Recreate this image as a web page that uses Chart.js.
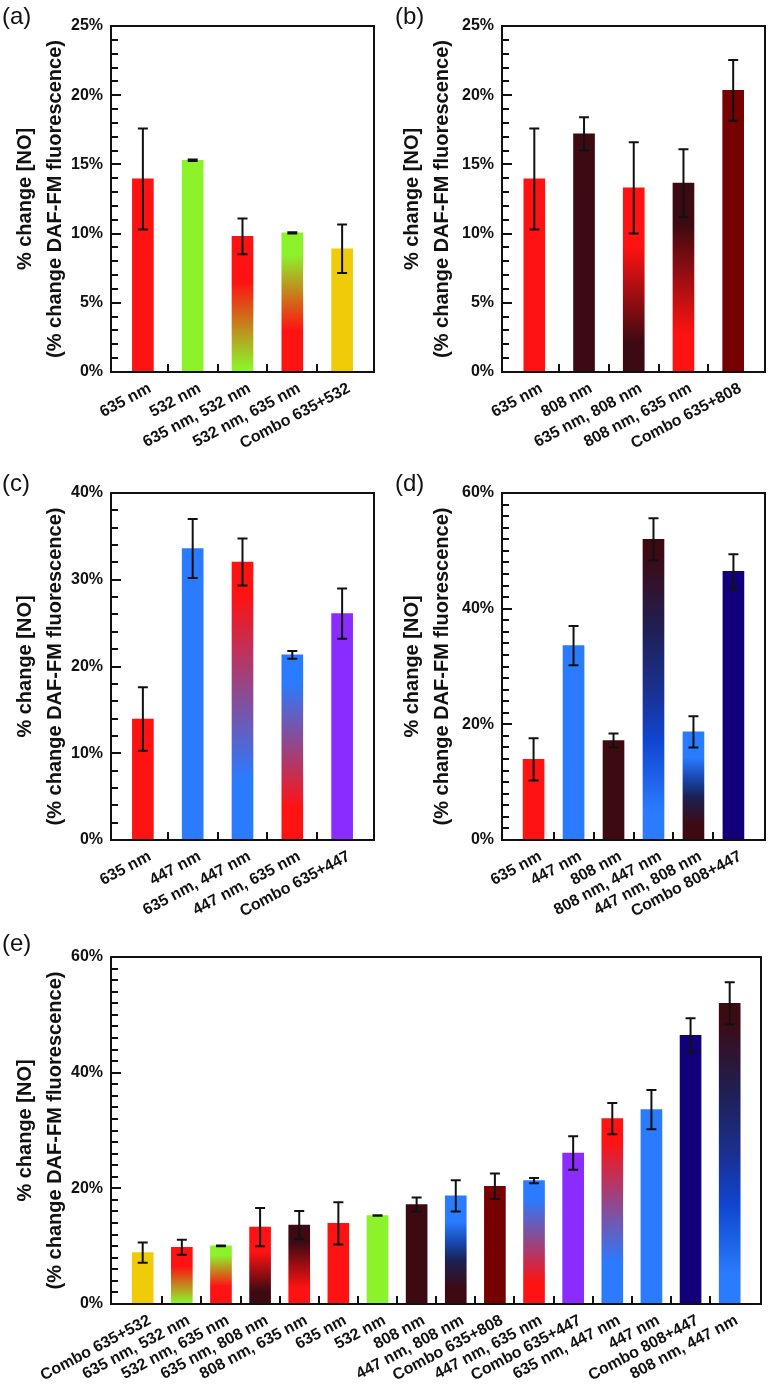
<!DOCTYPE html>
<html>
<head>
<meta charset="utf-8">
<script src="https://cdn.jsdelivr.net/npm/chart.js@4.4.1/dist/chart.umd.min.js"></script>
<style>
  html, body { margin:0; padding:0; background:#fff; }
  body { width:770px; height:1386px; position:relative; overflow:hidden; }
  canvas { position:absolute; }
  .plabel { position:absolute; font:24px "Liberation Sans", Arial, sans-serif; line-height:24px; color:#111; }
</style>
</head>
<body>
<canvas id="ca" width="385" height="470" style="left:0;top:0"></canvas>
<canvas id="cb" width="385" height="470" style="left:385px;top:0"></canvas>
<canvas id="cc" width="385" height="480" style="left:0;top:440px"></canvas>
<canvas id="cd" width="385" height="480" style="left:385px;top:440px"></canvas>
<canvas id="ce" width="770" height="476" style="left:0;top:910px"></canvas>
<div class="plabel" style="left:2px;top:4px">(a)</div>
<div class="plabel" style="left:395px;top:4px">(b)</div>
<div class="plabel" style="left:2px;top:471px">(c)</div>
<div class="plabel" style="left:395px;top:471px">(d)</div>
<div class="plabel" style="left:2px;top:931px">(e)</div>
<script>
// ---------------- DATA ----------------
// Panel (a)
const labelsA = ['635 nm', '532 nm', '635 nm, 532 nm', '532 nm, 635 nm', 'Combo 635+532'];
const valuesA = [13.95, 15.3, 9.8, 10.05, 8.9];
const errorsA = [3.65, 0.05, 1.3, 0.05, 1.75];
// Panel (b)
const labelsB = ['635 nm', '808 nm', '635 nm, 808 nm', '808 nm, 635 nm', 'Combo 635+808'];
const valuesB = [13.95, 17.2, 13.3, 13.65, 20.35];
const errorsB = [3.65, 1.2, 3.3, 2.45, 2.2];
// Panel (c)
const labelsC = ['635 nm', '447 nm', '635 nm, 447 nm', '447 nm, 635 nm', 'Combo 635+447'];
const valuesC = [13.95, 33.6, 32.05, 21.35, 26.1];
const errorsC = [3.65, 3.4, 2.7, 0.45, 2.9];
// Panel (d)
const labelsD = ['635 nm', '447 nm', '808 nm', '808 nm, 447 nm', '447 nm, 808 nm', 'Combo 808+447'];
const valuesD = [13.95, 33.6, 17.2, 52.0, 18.7, 46.45];
const errorsD = [3.65, 3.4, 1.2, 3.65, 2.7, 2.95];
// Panel (e)
const labelsE = ['Combo 635+532', '635 nm, 532 nm', '532 nm, 635 nm', '635 nm, 808 nm', '808 nm, 635 nm',
  '635 nm', '532 nm', '808 nm', '447 nm, 808 nm', 'Combo 635+808', '447 nm, 635 nm', 'Combo 635+447',
  '635 nm, 447 nm', '447 nm', 'Combo 808+447', '808 nm, 447 nm'];
const valuesE = [8.9, 9.8, 10.05, 13.3, 13.65, 13.95, 15.3, 17.2, 18.7, 20.35, 21.35, 26.1, 32.05, 33.6, 46.45, 52.0];
const errorsE = [1.75, 1.3, 0.05, 3.3, 2.45, 3.65, 0.05, 1.2, 2.7, 2.2, 0.45, 2.9, 2.7, 3.4, 2.95, 3.65];
// Y tick labels (percent)
const yTicksAB = [0, 5, 10, 15, 20, 25];
const yTicksC = [0, 10, 20, 30, 40];
const yTicksDE = [0, 20, 40, 60];
const yTitle = ['% change [NO]', '(% change DAF-FM fluorescence)'];

// ---------------- STYLE ----------------
const FONT = '"Liberation Sans", Arial, Helvetica, sans-serif';
const INK = '#111111';
const RED = '#FF1212', GREEN = '#8CF22A', GOLD = '#F0CC08', DARK = '#3D0A12',
      BLUE = '#2A7BFF', PURPLE = '#8A2BFF', NAVY = '#12007A', MAROON = '#770000';
// gradient stops: position from bar bottom (0) to bar top (1)
const barStyles = {
  '635 nm': RED,
  '532 nm': GREEN,
  '808 nm': DARK,
  '447 nm': BLUE,
  'Combo 635+532': GOLD,
  'Combo 635+808': MAROON,
  'Combo 635+447': PURPLE,
  'Combo 808+447': NAVY,
  '635 nm, 532 nm': [[0.03, GREEN], [0.66, RED]],
  '532 nm, 635 nm': [[0.3, RED], [0.84, GREEN]],
  '635 nm, 808 nm': [[0.16, DARK], [0.68, RED]],
  '808 nm, 635 nm': [[0.2, RED], [0.78, DARK]],
  '635 nm, 447 nm': [[0.22, BLUE], [0.88, RED]],
  '447 nm, 635 nm': [[0.17, RED], [0.85, BLUE]],
  '808 nm, 447 nm': [[0.1, BLUE], [0.33, '#1045D0'], [0.5, '#1A3090'], [0.7, '#1F1F55'], [0.95, DARK]],
  '447 nm, 808 nm': [[0.14, DARK], [0.4, '#1C2055'], [0.57, '#1848B0'], [0.76, BLUE]]
};

function fillFor(c, labels, values) {
  if (c.type !== 'data') return RED;
  const st = barStyles[labels[c.dataIndex]];
  if (typeof st === 'string') return st;
  const chart = c.chart;
  if (!chart.chartArea || !chart.scales.y) return st[st.length - 1][1];
  const y = chart.scales.y;
  const y0 = y.getPixelForValue(0), y1 = y.getPixelForValue(values[c.dataIndex]);
  const g = chart.ctx.createLinearGradient(0, y0, 0, y1);
  st.forEach(([p, col]) => g.addColorStop(p, col));
  return g;
}

function makeFrame(errors, minorStep, majorTicks, n) {
  return {
    id: 'frame',
    afterDatasetsDraw(chart) {
      const { ctx, chartArea: a, scales: { x, y } } = chart;
      const pts = chart.data.datasets[0].data;
      ctx.save();
      ctx.strokeStyle = INK;
      ctx.lineWidth = 2;
      ctx.lineCap = 'butt';
      // error bars
      pts.forEach((p, i) => {
        const e = errors[i];
        const px = x.getPixelForValue(p.x);
        const yt = y.getPixelForValue(p.y + e), yb = y.getPixelForValue(p.y - e);
        ctx.beginPath();
        ctx.moveTo(px, yt); ctx.lineTo(px, yb);
        ctx.moveTo(px - 5, yt); ctx.lineTo(px + 5, yt);
        ctx.moveTo(px - 5, yb); ctx.lineTo(px + 5, yb);
        ctx.stroke();
      });
      // inner ticks on y axis
      ctx.beginPath();
      const steps = Math.round((y.max - y.min) / minorStep);
      for (let k = 1; k < steps; k++) {
        const v = y.min + k * minorStep;
        const py = Math.round(y.getPixelForValue(v));
        const major = majorTicks.some(t => Math.abs(t - v) < 1e-6);
        ctx.moveTo(a.left, py); ctx.lineTo(a.left + (major ? 10 : 7), py);
      }
      // inner ticks on x axis between categories
      for (let i = 0; i < n - 1; i++) {
        const px = Math.round(x.getPixelForValue(i + 0.5));
        ctx.moveTo(px, a.bottom); ctx.lineTo(px, a.bottom - 8);
      }
      ctx.stroke();
      // frame
      ctx.strokeRect(a.left, a.top, a.right - a.left, a.bottom - a.top);
      ctx.restore();
    }
  };
}

function makePanel(id, labels, values, errors, yTicks, minorStep, geo) {
  const canvas = document.getElementById(id);
  const W = canvas.width, H = canvas.height;
  const xAxisH = H - geo.bottom;
  new Chart(canvas, {
    type: 'bar',
    data: {
      datasets: [{
        data: values.map((v, i) => ({ x: i, y: v })),
        backgroundColor: c => fillFor(c, labels, values),
        borderWidth: 0,
        barThickness: 21
      }]
    },
    options: {
      responsive: false,
      animation: false,
      devicePixelRatio: 1,
      layout: { padding: { left: 0, top: geo.top, right: W - geo.right, bottom: 0 } },
      plugins: { legend: { display: false }, tooltip: { enabled: false }, title: { display: false } },
      scales: {
        x: {
          type: 'linear',
          offset: false,
          min: geo.xmin,
          max: geo.xmax,
          afterBuildTicks: s => { s.ticks = labels.map((_, i) => ({ value: i })); },
          afterFit: s => { s.height = xAxisH; },
          grid: { display: false, drawTicks: false },
          border: { display: false },
          ticks: {
            autoSkip: false, minRotation: 28, maxRotation: 28, padding: 7, labelOffset: 7,
            color: INK, font: { family: FONT, size: 16, weight: 'bold' },
            callback: v => labels[v]
          }
        },
        y: {
          type: 'linear',
          min: yTicks[0],
          max: yTicks[yTicks.length - 1],
          afterBuildTicks: s => { s.ticks = yTicks.map(v => ({ value: v })); },
          afterFit: s => { s.width = geo.left; },
          grid: { display: false, drawTicks: false },
          border: { display: false },
          ticks: {
            padding: 8, color: INK, font: { family: FONT, size: 16, weight: 'bold' },
            callback: v => v + '%'
          },
          title: {
            display: true, text: yTitle, color: INK,
            font: { family: FONT, size: 20, weight: 'bold', lineHeight: 1.5 },
            padding: { top: geo.tpad, bottom: 0 }
          }
        }
      }
    },
    plugins: [makeFrame(errors, minorStep, yTicks, labels.length)]
  });
}

makePanel('ca', labelsA, valuesA, errorsA, yTicksAB, 1, { left: 111, right: 374, top: 26, bottom: 372, xmin: -0.64, xmax: 4.64, tpad: 10 });
makePanel('cb', labelsB, valuesB, errorsB, yTicksAB, 1, { left: 117, right: 380, top: 26, bottom: 372, xmin: -0.65, xmax: 4.64, tpad: 12 });
makePanel('cc', labelsC, valuesC, errorsC, yTicksC, 2, { left: 111, right: 374, top: 53, bottom: 400, xmin: -0.64, xmax: 4.64, tpad: 10 });
makePanel('cd', labelsD, valuesD, errorsD, yTicksDE, 2, { left: 117, right: 380, top: 53, bottom: 400, xmin: -0.79, xmax: 5.79, tpad: 12 });
makePanel('ce', labelsE, valuesE, errorsE, yTicksDE, 2, { left: 111, right: 761, top: 47, bottom: 394, xmin: -0.81, xmax: 15.8, tpad: 10 });
</script>
</body>
</html>
